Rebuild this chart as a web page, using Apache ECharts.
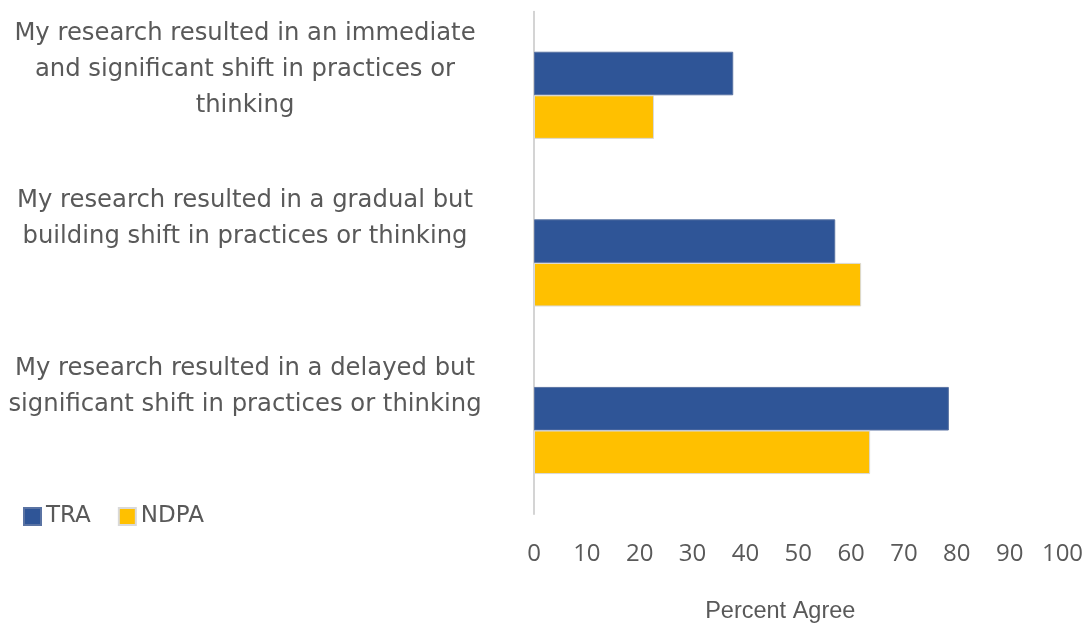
<!DOCTYPE html>
<html>
<head>
<meta charset="utf-8">
<style>
  html, body { margin: 0; padding: 0; background: #ffffff; }
  #chart { width: 1091px; height: 623px; }
</style>
<script src="https://cdn.jsdelivr.net/npm/echarts@6/dist/echarts.min.js"></script>
</head>
<body>
<div id="chart"></div>
<script>
// Survey statements (top to bottom)
const categories = [
  'My research resulted in an immediate\nand significant shift in practices or\nthinking',
  'My research resulted in a gradual but\nbuilding shift in practices or thinking',
  'My research resulted in a delayed but\nsignificant shift in practices or thinking'
];

// Percent agreeing, per group
const traValues = [37.7, 57.0, 78.5];
const ndpaValues = [22.7, 61.9, 63.6];

const seriesNames = ['TRA', 'NDPA'];
const seriesColors = ['#2F5597', '#FFC000'];

const textColor = '#595959';
const labelFont = '"DejaVu Sans", "Noto Sans", sans-serif';
const tickFont = '"Open Sans", "Noto Sans", sans-serif';

const chart = echarts.init(document.getElementById('chart'), null, { renderer: 'canvas' });

chart.setOption({
  animation: false,
  backgroundColor: '#ffffff',
  grid: {
    left: 534, right: 28.5, top: 11.5, bottom: 108.7,
    containLabel: false,
    outerBoundsMode: 'none'
  },
  legend: {
    left: 23,
    top: 505,
    padding: 0,
    itemWidth: 17,
    itemHeight: 17,
    itemGap: 27,
    icon: 'rect',
    textStyle: { color: textColor, fontSize: 23, fontFamily: labelFont },
    data: seriesNames
  },
  xAxis: {
    type: 'value',
    min: 0,
    max: 100,
    interval: 10,
    name: 'Percent Agree',
    nameLocation: 'middle',
    nameGap: 85,
    nameTextStyle: {
      color: textColor,
      fontSize: 23.5,
      fontFamily: '"Liberation Sans", Arial, sans-serif',
      padding: [0, 36, 0, 0]
    },
    axisLine: { show: false },
    axisTick: { show: false },
    splitLine: { show: false },
    axisLabel: {
      color: textColor,
      fontSize: 24,
      fontFamily: tickFont,
      margin: 28
    }
  },
  yAxis: {
    type: 'category',
    inverse: true,
    data: categories,
    axisLine: { show: true, lineStyle: { color: '#c6c6c6', width: 1.5 } },
    axisTick: { show: false },
    splitLine: { show: false },
    axisLabel: {
      color: textColor,
      fontSize: 24.3,
      fontFamily: labelFont,
      lineHeight: 36,
      align: 'center',
      verticalAlign: 'top',
      padding: [-80, 0, 0, 0],
      margin: 289
    }
  },
  series: [
    {
      name: seriesNames[0],
      type: 'bar',
      data: traValues,
      barGap: '0%',
      barCategoryGap: '48%',
      itemStyle: { color: seriesColors[0], borderColor: '#5a73a3', borderWidth: 1 }
    },
    {
      name: seriesNames[1],
      type: 'bar',
      data: ndpaValues,
      barGap: '0%',
      barCategoryGap: '48%',
      itemStyle: { color: seriesColors[1], borderColor: '#d9d9d9', borderWidth: 1 }
    }
  ]
});
</script>
</body>
</html>
